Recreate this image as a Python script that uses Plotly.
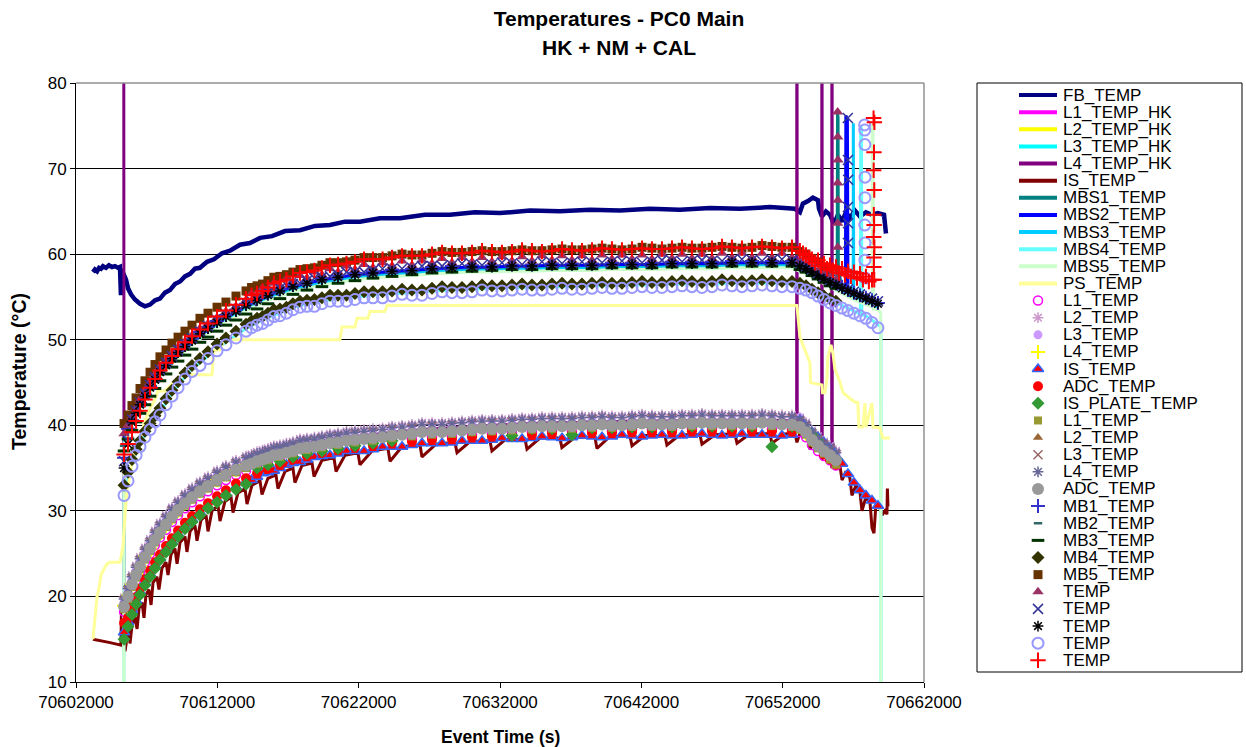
import plotly.graph_objects as go

T0 = 70600000  # origin of the time offsets below (Event Time = T0 + offset, seconds)

# ---------------- sample times (s after T0) ----------------
t_main = [5400, 5680, 5960, 6250, 6530, 6880, 7240, 7590, 7940, 8370,
          8790, 9220, 9710, 10210, 10770, 11340, 11980, 12610, 13320, 14030,
          14810, 15580, 16430, 17350, 18340, 19400, 20540, 21740, 23010, 24360,
          25770, 27190, 28600, 30020, 31430, 32850, 34260, 35680, 37090, 38510,
          39920, 41340, 42750, 44170, 45580, 47000, 48410, 49830, 51240, 52660]
t_mid = [14420, 15200, 16000, 16890, 17850, 18870, 19970, 21140, 22380, 23690,
         25070, 26480, 27900, 29310, 30730, 32140, 33560, 34970, 36390, 37800,
         39220, 40630, 42050, 43460, 44880, 46290, 47710, 49120, 50540, 51950]
t_tail = [53220, 53650, 54070, 54500, 54920, 55350, 55770, 56200, 56620, 57040,
          57470, 57890, 58320, 58740]

# ---------------- line series ----------------
fb_t = [3200, 3340, 3490, 3630, 3770, 3910, 4120, 4330, 4550, 4760, 4970, 5110, 5180, 5220, 5330,
        5540, 5680, 5890, 6170, 6530, 6880, 7240, 7590, 7940, 8300, 8650, 9000, 9360, 9710, 10070,
        10420, 10770, 11270, 11760, 12330, 12900, 13600, 14310, 15020, 15870, 16790, 17850, 18910,
        19970, 21030, 22090, 23510, 24920, 26690, 28460, 30230, 32000, 34120, 36240, 38370, 40490,
        42610, 44730, 46860, 48980, 51100, 52520, 52870, 53220, 53430, 53790, 54140, 54500, 54570,
        54780, 55060, 55350, 55630, 55910, 56200, 56480, 56760, 57110, 57470, 57890, 58320, 58740,
        59170, 59310]
fb_v = [57.9, 58.2, 58.0, 58.4, 58.3, 58.6, 58.4, 58.7, 58.5, 58.6, 58.4, 58.5, 55.2, 58.3, 57.8,
        57.0, 56.0, 55.3, 54.7, 54.2, 53.9, 54.1, 54.6, 54.8, 55.5, 55.8, 56.5, 56.8, 57.4, 57.7,
        58.3, 58.4, 59.1, 59.4, 60.1, 60.4, 61.1, 61.3, 61.9, 62.1, 62.7, 62.8, 63.3,
        63.4, 63.8, 63.8, 64.2, 64.2, 64.6, 64.6, 64.9, 64.8, 65.1, 65.0, 65.2, 65.1,
        65.3, 65.2, 65.4, 65.3, 65.5, 65.4, 65.3, 64.9, 65.9, 66.2, 66.6, 66.3, 65.3,
        64.4, 65.0, 64.6, 63.5, 64.6, 63.8, 64.9, 64.2, 65.1, 64.4, 64.9, 64.6, 64.8,
        64.6, 62.4]

l1hk_v = [18.6, 19.8, 21.2, 22.3, 23.3, 24.4, 25.4, 26.4, 27.3, 28.2,
          29.1, 29.9, 30.7, 31.4, 32.1, 32.7, 33.4, 34.0, 34.6, 35.1,
          35.6, 36.0, 36.4, 36.8, 37.2, 37.5, 37.8, 38.1, 38.3, 38.6,
          38.8, 39.0, 39.1, 39.3, 39.4, 39.5, 39.6, 39.7, 39.7, 39.8,
          39.8, 39.9, 39.9, 39.9, 40.0, 40.0, 40.0, 40.0, 40.0, 39.9]
l1hk_tail = [39.6, 39.0, 38.1, 37.4, 36.8, 36.3, 35.7]

l2hk_v = [18.9, 20.1, 21.5, 22.6, 23.6, 24.7, 25.7, 26.7, 27.6, 28.5,
          29.4, 30.2, 31.0, 31.7, 32.4, 33.0, 33.7, 34.3, 34.9, 35.4,
          35.9, 36.3, 36.7, 37.1, 37.5, 37.8, 38.1, 38.4, 38.6, 38.9,
          39.1, 39.3, 39.4, 39.6, 39.7, 39.8, 39.9, 40.0, 40.0, 40.1,
          40.1, 40.2, 40.2, 40.2, 40.3, 40.3, 40.3, 40.3, 40.3, 40.2]
l2hk_tail = [39.9, 39.3, 38.4, 37.7, 37.1, 36.6, 36.0]

l3hk_v = [19.1, 20.3, 21.7, 22.8, 23.8, 24.9, 25.9, 26.9, 27.8, 28.7,
          29.6, 30.4, 31.2, 31.9, 32.6, 33.2, 33.9, 34.5, 35.1, 35.6,
          36.1, 36.5, 36.9, 37.3, 37.7, 38.0, 38.3, 38.6, 38.8, 39.1,
          39.3, 39.5, 39.6, 39.8, 39.9, 40.0, 40.1, 40.2, 40.2, 40.3,
          40.3, 40.4, 40.4, 40.4, 40.5, 40.5, 40.5, 40.5, 40.5, 40.4]
l3hk_tail = [40.1, 39.5, 38.6, 37.9, 37.3, 36.8, 36.2]

l4hk_v = [19.0, 20.4, 21.8, 22.9, 23.9, 25.0, 26.0, 27.0, 27.9, 28.8,
          29.7, 30.5, 31.3, 32.0, 32.7, 33.3, 34.0, 34.6, 35.2, 35.7,
          36.2, 36.6, 37.0, 37.4, 37.8, 38.1, 38.4, 38.7, 38.9, 39.2,
          39.4, 39.6, 39.7, 39.9, 40.0, 40.1, 40.2, 40.3, 40.3, 40.4,
          40.4, 40.5, 40.5, 40.5, 40.6, 40.6, 40.6, 40.6, 40.6, 40.5]
l4hk_tail = [40.2, 39.6, 38.7, 38.0, 37.4, 36.9, 36.3]
l4hk_spike_t = [5370, 5385, 52990, 53010, 53030, 54760, 54780, 54800, 55470, 55490, 55510]
l4hk_spike_v = [120.0, 35.5, 40.6, 120.0, 41.0, 37.6, 120.0, 37.7, 38.0, 120.0, 38.2]

is_t = [3200, 3700, 4410, 5180, 5220, 5330, 5470, 5610, 5750, 5820,
        5960, 6170, 6320, 6460, 6670, 6810, 6950, 7160, 7310, 7450,
        7730, 7870, 8080, 8370, 8510, 8720, 9000, 9150, 9360, 9710,
        9850, 10070, 10420, 10560, 10840, 11200, 11340, 11620, 12050, 12190,
        12540, 12970, 13110, 13460, 13960, 14100, 14450, 15020, 15160, 15580,
        16150, 16290, 16790, 17350, 17490, 17990, 18700, 18840, 19400, 20250,
        20400, 21030, 21950, 22090, 22940, 24070, 24220, 25060, 26340, 26480,
        27470, 28810, 28960, 29880, 31290, 31430, 32350, 33770, 33910, 34830,
        36240, 36380, 37300, 38720, 38860, 39780, 41200, 41340, 42260, 43670,
        43810, 44730, 46150, 46290, 47210, 48620, 48770, 49690, 51100, 51240,
        52160, 52870, 53010, 53360, 53790, 53930, 54280, 54640, 54780, 55060,
        55350, 55490, 55770, 56050, 56200, 56480, 56760, 56900, 57190, 57470,
        57610, 57890, 58180, 58320, 58460, 58600, 58880, 59030, 59240, 59380,
        59410, 59450]
is_v = [15.0, 14.8, 14.6, 14.3, 19.0, 18.5, 13.6, 15.2, 16.0, 14.5,
        16.6, 17.6, 16.2, 18.6, 19.3, 17.5, 20.2, 20.8, 19.0, 21.6,
        22.3, 20.8, 23.3, 24.0, 22.5, 24.9, 25.6, 23.8, 26.3, 27.0,
        25.2, 27.6, 28.3, 26.5, 28.9, 29.5, 27.6, 30.0, 30.6, 28.8,
        31.1, 31.6, 29.8, 32.1, 32.6, 30.8, 33.0, 33.5, 31.9, 33.8,
        34.2, 32.6, 34.6, 35.0, 33.3, 35.3, 35.6, 34.0, 35.9, 36.2,
        34.6, 36.5, 36.8, 35.4, 37.0, 37.3, 35.8, 37.5, 37.7, 36.3,
        37.8, 38.0, 36.8, 38.1, 38.2, 37.0, 38.3, 38.4, 37.2, 38.5,
        38.5, 37.4, 38.6, 38.6, 37.3, 38.7, 38.7, 37.6, 38.8, 38.8,
        37.7, 38.9, 38.9, 37.8, 38.9, 39.0, 37.9, 39.0, 39.0, 37.9,
        39.0, 39.1, 38.0, 39.8, 39.0, 37.2, 38.4, 37.8, 36.0, 37.4,
        36.6, 35.0, 36.0, 35.3, 33.6, 34.6, 33.8, 31.8, 33.0, 32.2,
        30.0, 31.6, 31.0, 28.0, 27.4, 30.8, 30.3, 29.5, 30.0, 29.6,
        32.6, 30.5]

mbs1_v = [38.1, 39.1, 40.1, 41.1, 42.1, 43.1, 44.1, 45.0, 45.9, 46.7,
          47.5, 48.2, 48.9, 49.6, 50.4, 51.0, 51.7, 52.4, 53.0, 53.7,
          54.3, 54.9, 55.4, 55.9, 56.3, 56.7, 57.0, 57.3, 57.5, 57.7,
          57.8, 58.0, 58.1, 58.2, 58.2, 58.3, 58.3, 58.4, 58.4, 58.4,
          58.5, 58.5, 58.5, 58.6, 58.6, 58.6, 58.7, 58.7, 58.7, 58.7]
mbs1_tail = [58.3, 58.0, 57.6, 57.2, 56.8, 56.4, 56.1, 55.7, 55.3, 55.0, 54.7, 54.4, 54.1, 53.8]
mbs1_spike_t = [55860, 55880, 55920, 55940]
mbs1_spike_v = [57.8, 76.5, 76.0, 58.5]

mbs2_v = [38.4, 39.4, 40.4, 41.4, 42.4, 43.4, 44.4, 45.3, 46.2, 47.0,
          47.8, 48.5, 49.2, 49.9, 50.7, 51.3, 52.0, 52.7, 53.3, 54.0,
          54.6, 55.2, 55.7, 56.2, 56.6, 57.0, 57.3, 57.6, 57.8, 58.0,
          58.1, 58.3, 58.4, 58.5, 58.5, 58.6, 58.6, 58.7, 58.7, 58.7,
          58.8, 58.8, 58.8, 58.9, 58.9, 58.9, 59.0, 59.0, 59.0, 59.0]
mbs2_tail = [58.6, 58.3, 57.9, 57.5, 57.1, 56.7, 56.4, 56.0, 55.7, 55.4, 55.1, 54.8, 54.5, 54.2]
mbs2_spike_t = [56440, 56470, 56580, 56610]
mbs2_spike_v = [56.1, 76.2, 75.8, 55.8]

mbs3_v = [38.0, 39.0, 40.0, 41.0, 42.0, 43.0, 44.0, 44.9, 45.8, 46.6,
          47.4, 48.1, 48.8, 49.5, 50.3, 50.9, 51.6, 52.3, 52.9, 53.6,
          54.2, 54.8, 55.3, 55.8, 56.2, 56.6, 56.9, 57.2, 57.4, 57.6,
          57.7, 57.9, 58.0, 58.1, 58.1, 58.2, 58.2, 58.3, 58.3, 58.3,
          58.4, 58.4, 58.4, 58.5, 58.5, 58.5, 58.6, 58.6, 58.6, 58.6]
mbs3_tail = [58.2, 57.9, 57.5, 57.1, 56.7, 56.3, 56.0, 55.6, 55.2, 54.9, 54.6, 54.3, 54.0, 53.7]
mbs3_spike_t = [56990, 57000, 57020, 57030]
mbs3_spike_v = [55.0, 75.3, 75.0, 54.8]

mbs4_v = [32.1, 33.8, 35.5, 36.8, 37.8, 38.9, 39.8, 40.7, 41.5, 42.7,
          43.7, 44.7, 45.7, 46.6, 47.3, 48.1, 49.0, 49.7, 50.5, 51.3,
          52.0, 52.6, 53.1, 53.8, 54.2, 54.5, 54.8, 55.0, 55.2, 55.4,
          55.5, 55.7, 55.8, 55.9, 56.0, 56.1, 56.1, 56.2, 56.2, 56.3,
          56.3, 56.4, 56.4, 56.5, 56.5, 56.5, 56.6, 56.6, 56.6, 56.5]
mbs4_tail = [56.3, 56.1, 55.8, 55.4, 55.0, 54.6, 54.3, 54.0, 53.7, 53.4, 53.1, 52.8, 52.3, 51.7]
mbs4_spike_t = [5380, 57500, 57520, 57580, 57600, 58950, 58960]
mbs4_spike_v = [0.0, 53.0, 75.0, 74.6, 52.9, 51.5, 0.0]

mbs5_v = [37.8, 38.8, 39.8, 40.8, 41.8, 42.8, 43.8, 44.7, 45.6, 46.4,
          47.2, 47.9, 48.6, 49.3, 50.1, 50.7, 51.4, 52.1, 52.7, 53.4,
          54.0, 54.6, 55.1, 55.6, 56.0, 56.4, 56.7, 57.0, 57.2, 57.4,
          57.5, 57.7, 57.8, 57.9, 57.9, 58.0, 58.0, 58.1, 58.1, 58.1,
          58.2, 58.2, 58.2, 58.3, 58.3, 58.3, 58.4, 58.4, 58.4, 58.4]
mbs5_tail = [58.0, 57.7, 57.3, 56.9, 56.5, 56.1, 55.8, 55.4, 55.0, 54.7, 54.4, 54.1, 53.8, 53.5]
mbs5_spike_t = [5380, 58340, 58350, 58400, 58420, 58940, 58950]
mbs5_spike_v = [0.0, 53.8, 75.2, 74.8, 53.6, 53.2, 0.0]

ps_t = [3200, 3340, 3490, 3630, 3770, 3980, 4190, 4410, 5110, 5180, 5330, 5470, 5610, 5750, 5890,
        6170, 6530, 6880, 7240, 7590, 7800, 8300, 8650, 9000, 9570, 11620, 11760, 12190, 12470,
        20680, 20820, 21740, 21880, 22660, 22800, 23860, 24000, 53010, 53220, 53580, 53930, 53970,
        54780, 54820, 54990, 55130, 55200, 55420, 55560, 55700, 56050, 56270, 56760, 57110, 57320,
        57390, 57680, 57820, 57890, 58320, 58390, 58880, 59100, 59590]
ps_v = [15.0, 17.5, 20.0, 21.0, 22.5, 23.2, 23.8, 24.0, 24.0, 24.5, 26.0, 29.5, 32.5, 33.5, 35.0,
        37.0, 38.5, 40.5, 42.0, 43.0, 44.0, 44.0, 44.6, 45.2, 45.9, 45.9, 48.8, 48.8, 50.0,
        50.0, 51.5, 51.5, 52.5, 52.5, 53.3, 53.3, 54.0, 54.0, 50.3, 48.8, 47.3, 45.0,
        44.7, 43.8, 43.8, 45.3, 48.0, 49.4, 48.4, 46.5, 45.1, 43.8, 43.2, 42.7, 42.7,
        39.8, 39.8, 42.6, 39.8, 42.6, 39.8, 39.7, 38.5, 38.5]

# ---------------- marker series: lower group ----------------
l1_v = [18.2, 19.4, 20.8, 21.9, 22.9, 24.0, 25.0, 26.0, 26.9, 27.8,
        28.7, 29.5, 30.3, 31.0, 31.7, 32.3, 33.0, 33.6, 34.2, 34.7,
        35.2, 35.6, 36.0, 36.4, 36.8, 37.1, 37.4, 37.7, 37.9, 38.2,
        38.4, 38.6, 38.7, 38.9, 39.0, 39.1, 39.2, 39.3, 39.3, 39.4,
        39.4, 39.5, 39.5, 39.5, 39.6, 39.6, 39.6, 39.6, 39.6, 39.5]
l1_tail = [39.2, 38.6, 37.7, 37.0, 36.4, 35.9, 35.3]

l2_v = [19.9, 21.1, 22.5, 23.6, 24.6, 25.7, 26.7, 27.7, 28.6, 29.5,
        30.4, 31.2, 32.0, 32.7, 33.4, 34.0, 34.7, 35.3, 35.9, 36.4,
        36.9, 37.3, 37.7, 38.1, 38.5, 38.8, 39.1, 39.4, 39.6, 39.9,
        40.1, 40.3, 40.4, 40.6, 40.7, 40.8, 40.9, 41.0, 41.0, 41.1,
        41.1, 41.2, 41.2, 41.2, 41.3, 41.3, 41.3, 41.3, 41.3, 41.2]
l2_mid = [36.6, 37.1, 37.6, 37.9, 38.4, 38.6, 39.0, 39.3, 39.5, 39.7,
          40.0, 40.3, 40.3, 40.5, 40.7, 40.7, 40.9, 41.0, 41.0, 41.1,
          41.2, 41.1, 41.3, 41.2, 41.3, 41.4, 41.3, 41.3, 41.4, 41.2]
l2_tail = [40.9, 40.3, 39.4, 38.7, 38.1, 37.6, 37.0]

l3_v = [19.3, 20.5, 21.9, 23.0, 24.0, 25.1, 26.1, 27.1, 28.0, 28.9,
        29.8, 30.6, 31.4, 32.1, 32.8, 33.4, 34.1, 34.7, 35.3, 35.8,
        36.3, 36.7, 37.1, 37.5, 37.9, 38.2, 38.5, 38.8, 39.0, 39.3,
        39.5, 39.7, 39.8, 40.0, 40.1, 40.2, 40.3, 40.4, 40.4, 40.5,
        40.5, 40.6, 40.6, 40.6, 40.7, 40.7, 40.7, 40.7, 40.7, 40.6]
l3_tail = [40.9, 39.7, 38.8, 38.1, 37.5, 37.0, 36.4]

l4_v = [18.9, 20.1, 21.4, 22.6, 23.5, 24.7, 25.6, 26.7, 27.5, 28.5,
        29.3, 30.2, 30.9, 31.7, 32.3, 33.0, 33.6, 34.3, 34.8, 35.4,
        35.8, 36.3, 36.6, 37.1, 37.4, 37.8, 38.0, 38.4, 38.5, 38.9,
        39.0, 39.3, 39.3, 39.6, 39.6, 39.8, 39.8, 40.0, 39.9, 40.1,
        40.0, 40.2, 40.1, 40.2, 40.2, 40.3, 40.2, 40.3, 40.2, 40.2]
l4_tail = [39.8, 39.3, 38.3, 37.7, 37.0, 36.6, 35.9]

ismk_v = [15.8, 17.0, 18.4, 19.5, 20.5, 21.6, 22.6, 23.6, 24.5, 25.5,
          26.4, 27.3, 28.2, 29.0, 29.8, 30.5, 31.3, 32.0, 32.8, 33.4,
          34.0, 34.5, 35.0, 35.6, 36.0, 36.4, 36.7, 37.0, 37.2, 37.5,
          37.7, 37.9, 38.0, 38.2, 38.3, 38.4, 38.5, 38.6, 38.6, 38.7,
          38.7, 38.8, 38.8, 38.8, 38.9, 38.9, 38.9, 38.9, 38.9, 38.9]
ismk_mid = [33.6, 34.4, 34.7, 35.4, 35.7, 36.3, 36.5, 37.0, 37.0, 37.5,
            37.5, 37.9, 37.9, 38.2, 38.2, 38.5, 38.4, 38.7, 38.5, 38.8,
            38.6, 38.9, 38.7, 38.9, 38.8, 39.0, 38.8, 39.0, 38.9, 38.8]
ismk_tail = [40.6, 39.6, 39.2, 38.6, 38.0, 37.3, 36.4, 35.5, 34.3, 33.3, 32.4, 31.8, 31.2, 30.6]

adc_v = [16.9, 17.5, 18.8, 19.9, 20.9, 22.0, 23.0, 24.0, 24.9, 25.9,
         26.8, 27.7, 28.6, 29.4, 30.2, 30.9, 31.7, 32.4, 33.2, 33.8,
         34.4, 34.9, 35.4, 36.0, 36.4, 36.8, 37.1, 37.4, 37.6, 37.9,
         38.1, 38.3, 38.4, 38.6, 38.7, 38.8, 38.9, 39.0, 39.0, 39.1,
         39.1, 39.2, 39.2, 39.2, 39.3, 39.3, 39.3, 39.3, 39.3, 39.3]
adc_tail = [40.0, 39.4, 38.6, 37.9, 36.6, 36.0, 35.4]

plate_v = [15.0, 16.5, 17.9, 19.1, 20.2, 21.3, 22.3, 23.3, 24.3, 25.2,
           26.1, 27.0, 27.9, 28.7, 29.5, 30.3, 31.0, 31.8, 32.5, 33.1,
           35.0, 35.4, 35.8, 36.3, 36.7, 37.0, 37.3, 37.6, 37.9, 38.2,
           39.2, 39.3, 39.4, 39.4, 39.5, 38.8, 39.6, 39.6, 38.9, 39.7,
           39.7, 39.8, 39.8, 39.8, 39.9, 39.9, 39.9, 39.9, 37.5, 39.9]
plate_tail = [40.0, 39.5, 38.9, 38.2, 37.4, 36.8, 36.1]

l1b_v = [18.5, 19.7, 21.1, 22.2, 23.2, 24.3, 25.3, 26.3, 27.2, 28.1,
         29.0, 29.8, 30.6, 31.3, 32.0, 32.6, 33.3, 33.9, 34.5, 35.0,
         35.5, 35.9, 36.3, 36.7, 37.1, 37.4, 37.7, 38.0, 38.2, 38.5,
         38.7, 38.9, 39.0, 39.2, 39.3, 39.4, 39.5, 39.6, 39.6, 39.7,
         39.7, 39.8, 39.8, 39.8, 39.9, 39.9, 39.9, 39.9, 39.9, 39.8]
l1b_tail = [39.5, 38.9, 38.0, 37.3, 36.7, 36.0, 35.4]

l2b_v = [19.0, 20.2, 21.6, 22.7, 23.7, 24.8, 25.8, 26.8, 27.7, 28.6,
         29.5, 30.3, 31.1, 31.8, 32.5, 33.1, 33.8, 34.4, 35.0, 35.5,
         36.0, 36.4, 36.8, 37.2, 37.6, 37.9, 38.2, 38.5, 38.7, 39.0,
         39.2, 39.4, 39.5, 39.7, 39.8, 39.9, 40.0, 40.1, 40.1, 40.2,
         40.2, 40.3, 40.3, 40.3, 40.4, 40.4, 40.4, 40.4, 40.4, 40.3]
l2b_tail = [40.0, 39.4, 38.5, 37.8, 37.2, 36.7, 35.5]

l3b_v = [19.5, 20.7, 22.1, 23.2, 24.2, 25.3, 26.3, 27.3, 28.2, 29.1,
         30.0, 30.8, 31.6, 32.3, 33.0, 33.6, 34.3, 34.9, 35.5, 36.0,
         36.5, 36.9, 37.3, 37.7, 38.1, 38.4, 38.7, 39.0, 39.2, 39.5,
         39.7, 39.9, 40.0, 40.2, 40.3, 40.4, 40.5, 40.6, 40.6, 40.7,
         40.7, 40.8, 40.8, 40.8, 40.9, 40.9, 40.9, 40.9, 40.9, 40.8]
l3b_tail = [40.5, 39.9, 39.0, 38.3, 37.7, 37.2, 36.6]

l4b_v = [19.7, 20.9, 22.3, 23.4, 24.4, 25.5, 26.5, 27.5, 28.4, 29.3,
         30.2, 31.0, 31.8, 32.5, 33.2, 33.8, 34.5, 35.1, 35.7, 36.2,
         36.7, 37.1, 37.5, 37.9, 38.3, 38.6, 38.9, 39.2, 39.4, 39.7,
         39.9, 40.1, 40.2, 40.4, 40.5, 40.6, 40.7, 40.8, 40.8, 40.9,
         40.9, 41.0, 41.0, 41.0, 41.1, 41.1, 41.1, 41.1, 41.1, 41.0]
l4b_mid = [36.4, 36.9, 37.4, 37.7, 38.2, 38.4, 38.8, 39.1, 39.3, 39.5,
           39.8, 40.1, 40.1, 40.3, 40.5, 40.5, 40.7, 40.8, 40.8, 40.9,
           41.0, 40.9, 41.1, 41.0, 41.1, 41.2, 41.1, 41.1, 41.2, 41.0]
l4b_tail = [40.7, 40.1, 39.2, 38.5, 37.9, 37.4, 36.8]

adcb_v = [18.8, 20.0, 21.4, 22.5, 23.5, 24.6, 25.6, 26.6, 27.5, 28.4,
          29.3, 30.1, 30.9, 31.6, 32.3, 32.9, 33.6, 34.2, 34.8, 35.3,
          35.8, 36.2, 36.6, 37.0, 37.4, 37.7, 38.0, 38.3, 38.5, 38.8,
          39.0, 39.2, 39.3, 39.5, 39.6, 39.7, 39.8, 39.9, 39.9, 40.0,
          40.0, 40.1, 40.1, 40.1, 40.2, 40.2, 40.2, 40.2, 40.2, 40.1]
adcb_mid = [35.5, 36.0, 36.5, 36.8, 37.3, 37.5, 37.9, 38.2, 38.4, 38.6,
            38.9, 39.2, 39.2, 39.4, 39.6, 39.6, 39.8, 39.9, 39.9, 40.0,
            40.1, 40.0, 40.2, 40.1, 40.2, 40.3, 40.2, 40.2, 40.3, 40.1]
adcb_tail = [39.8, 39.2, 38.3, 37.6, 37.0, 36.5, 35.9]

# ---------------- marker series: upper group ----------------
mb1_v = [36.2, 39.6, 40.6, 41.6, 42.6, 43.6, 44.6, 45.5, 46.4, 47.2,
         48.0, 48.7, 49.4, 50.1, 50.9, 51.5, 52.2, 52.9, 53.5, 54.2,
         54.8, 55.4, 55.9, 56.4, 56.8, 57.2, 57.5, 57.8, 58.0, 58.2,
         58.3, 58.5, 58.6, 58.7, 58.7, 58.8, 58.8, 58.9, 58.9, 58.9,
         59.0, 59.0, 59.0, 59.1, 59.1, 59.1, 59.2, 59.2, 59.2, 59.2]
mb1_tail = [58.8, 58.5, 58.1, 57.7, 57.3, 56.9, 56.6, 56.2, 55.8, 55.5, 55.2, 54.9, 54.6, 54.3]

mb2_v = [37.6, 39.2, 40.2, 41.2, 42.2, 43.2, 44.2, 45.1, 46.0, 46.8,
         47.6, 48.3, 49.0, 49.7, 50.5, 51.1, 51.8, 52.5, 53.1, 53.8,
         54.4, 55.0, 55.5, 56.0, 56.4, 56.8, 57.1, 57.4, 57.6, 57.8,
         57.9, 58.1, 58.2, 58.3, 58.3, 58.4, 58.4, 58.5, 58.5, 58.5,
         58.6, 58.6, 58.6, 58.7, 58.7, 58.7, 58.8, 58.8, 58.8, 58.8]
mb2_tail = [58.4, 58.1, 57.7, 57.3, 56.9, 56.5, 56.2]

mb3_v = [37.0, 38.4, 39.4, 40.4, 41.4, 42.4, 43.4, 44.3, 45.2, 46.0,
         46.8, 47.5, 48.2, 48.9, 49.7, 50.3, 51.0, 51.7, 52.3, 53.0,
         53.6, 54.2, 54.8, 55.3, 55.8, 56.2, 56.6, 56.9, 57.2, 57.4,
         57.6, 57.8, 57.9, 58.0, 58.1, 58.2, 58.2, 58.3, 58.3, 58.3,
         58.4, 58.4, 58.4, 58.5, 58.5, 58.5, 58.6, 58.6, 58.6, 58.6]
mb3_tail = [58.2, 57.9, 57.5, 57.1, 56.7, 56.3, 56.0]

mb4_v = [33.0, 34.5, 36.0, 37.2, 38.2, 39.3, 40.2, 41.1, 42.0, 43.1,
         44.1, 45.1, 46.1, 47.0, 47.8, 48.6, 49.5, 50.2, 51.0, 51.8,
         52.5, 53.1, 53.6, 54.2, 54.6, 54.9, 55.2, 55.4, 55.6, 55.7,
         55.8, 56.0, 56.1, 56.2, 56.3, 56.4, 56.4, 56.5, 56.5, 56.6,
         56.6, 56.7, 56.7, 56.8, 56.8, 56.8, 56.9, 56.9, 56.9, 56.8]
mb4_mid = [52.2, 52.7, 53.5, 53.8, 54.5, 54.7, 55.2, 55.2, 55.6, 55.6,
           55.9, 55.8, 56.2, 56.1, 56.4, 56.3, 56.5, 56.4, 56.6, 56.5,
           56.7, 56.6, 56.8, 56.7, 56.9, 56.7, 57.0, 56.8, 57.0, 56.8]
mb4_tail = [56.6, 56.3, 55.9, 55.5, 55.1, 54.8, 54.5]

mb5_v = [40.2, 41.2, 42.3, 43.2, 44.3, 45.2, 46.2, 47.1, 48.0, 48.8,
         49.6, 50.3, 51.0, 51.7, 52.5, 53.1, 53.8, 54.4, 55.1, 55.7,
         56.3, 56.9, 57.4, 57.9, 58.3, 58.7, 59.0, 59.3, 59.6, 59.8,
         59.9, 60.1, 60.2, 60.3, 60.3, 60.4, 60.4, 60.5, 60.5, 60.6,
         60.6, 60.6, 60.7, 60.7, 60.7, 60.8, 60.8, 60.8, 60.9, 60.8]
mb5_mid = [56.1, 56.5, 57.3, 57.6, 58.2, 58.4, 59.0, 59.1, 59.6, 59.6,
           60.0, 59.9, 60.3, 60.2, 60.4, 60.3, 60.5, 60.4, 60.6, 60.5,
           60.7, 60.5, 60.8, 60.6, 60.8, 60.7, 60.9, 60.7, 61.0, 60.8]
mb5_tail = [60.3, 60.0, 59.5, 59.1, 58.5, 58.0]

tri_v = [39.0, 40.0, 41.0, 42.0, 43.0, 44.0, 45.0, 45.9, 46.8, 47.6,
         48.4, 49.1, 49.8, 50.5, 51.3, 51.9, 52.6, 53.3, 53.9, 54.6,
         55.2, 55.8, 56.3, 56.8, 57.2, 57.6, 57.9, 58.2, 58.4, 58.6,
         58.7, 58.9, 59.0, 59.1, 59.1, 59.2, 59.2, 59.3, 59.3, 59.3,
         59.4, 59.4, 59.4, 59.5, 59.5, 59.5, 59.6, 59.6, 59.6, 59.6]
tri_mid = [55.4, 56.0, 56.6, 57.1, 57.5, 57.9, 58.3, 58.6, 58.8, 59.0,
           59.2, 59.3, 59.5, 59.6, 59.6, 59.7, 59.7, 59.8, 59.8, 59.8,
           59.9, 59.9, 59.9, 60.0, 60.0, 60.0, 60.1, 60.1, 60.1, 60.1]
tri_tail = [59.2, 58.9, 58.5, 58.1, 57.7, 57.3, 57.0]
tri_spike_t = [55890, 55900, 55910, 55895, 55905, 55890, 55900]
tri_spike_v = [76.6, 73.7, 71.0, 68.3, 66.3, 63.6, 60.8]

tx_v = [35.8, 38.2, 40.7, 41.7, 42.7, 43.7, 44.7, 45.6, 46.5, 47.3,
        48.1, 48.8, 49.5, 50.2, 51.0, 51.6, 52.3, 53.0, 53.6, 54.3,
        54.9, 55.5, 56.0, 56.5, 56.9, 57.3, 57.6, 57.9, 58.1, 58.3,
        58.4, 58.6, 58.7, 58.8, 58.8, 58.9, 58.9, 59.0, 59.0, 59.0,
        59.1, 59.1, 59.1, 59.2, 59.2, 59.2, 59.3, 59.3, 59.3, 59.3]
tx_mid = [54.5, 55.3, 55.7, 56.4, 56.6, 57.2, 57.4, 57.9, 57.9, 58.3,
          58.3, 58.6, 58.6, 58.9, 58.7, 59.0, 58.8, 59.1, 58.9, 59.1,
          59.0, 59.2, 59.0, 59.3, 59.1, 59.3, 59.2, 59.4, 59.2, 59.4]
tx_tail = [59.0, 58.6, 58.2, 57.8, 57.4, 57.0, 56.7, 56.3, 55.9, 55.6, 55.3, 55.0, 54.8, 54.5]
tx_spike_t = [56610, 56620, 56630, 56615, 56625, 56620]
tx_spike_v = [75.9, 71.0, 68.7, 65.5, 63.6, 61.3]

tstar_v = [35.0, 37.8, 40.4, 41.4, 42.4, 43.4, 44.4, 45.3, 46.2, 47.0,
           47.8, 48.5, 49.2, 49.9, 50.7, 51.3, 52.0, 52.7, 53.3, 54.0,
           54.6, 55.2, 55.7, 56.2, 56.6, 57.0, 57.3, 57.6, 57.8, 58.0,
           58.1, 58.3, 58.4, 58.5, 58.5, 58.6, 58.6, 58.7, 58.7, 58.7,
           58.8, 58.8, 58.8, 58.9, 58.9, 58.9, 59.0, 59.0, 59.0, 59.0]
tstar_tail = [58.6, 58.3, 57.9, 57.5, 57.1, 56.7, 56.4, 56.0, 55.7, 55.4, 55.1, 54.8, 54.5, 54.2]

tcirc_v = [31.8, 33.5, 35.2, 36.5, 37.5, 38.6, 39.5, 40.4, 41.2, 42.4,
           43.4, 44.4, 45.4, 46.3, 47.0, 47.8, 48.7, 49.4, 50.2, 51.0,
           51.7, 52.3, 52.8, 53.5, 53.9, 54.2, 54.5, 54.7, 54.9, 55.1,
           55.2, 55.4, 55.5, 55.6, 55.7, 55.8, 55.8, 55.9, 55.9, 56.0,
           56.0, 56.1, 56.1, 56.2, 56.2, 56.2, 56.3, 56.3, 56.3, 56.2]
tcirc_mid = [51.4, 51.9, 52.7, 53.1, 53.8, 53.9, 54.5, 54.5, 54.9, 54.9,
             55.3, 55.2, 55.6, 55.5, 55.8, 55.7, 55.9, 55.8, 56.0, 55.9,
             56.1, 56.0, 56.2, 56.1, 56.3, 56.1, 56.4, 56.2, 56.4, 56.2]
tcirc_tail = [56.0, 55.8, 55.5, 55.1, 54.7, 54.3, 54.0, 53.7, 53.4, 53.1, 52.8, 52.5, 52.0, 51.4]
tcirc_spike_t = [57800, 57810, 57820, 57830, 57820, 57810, 57830, 57820, 57840]
tcirc_spike_v = [75.1, 74.5, 72.8, 69.0, 66.6, 63.4, 61.3, 59.3, 57.2]

tplus_v = [36.6, 37.8, 39.2, 40.5, 41.7, 43.0, 44.4, 45.4, 46.4, 47.3,
           48.1, 48.9, 49.7, 50.4, 51.2, 51.9, 52.7, 53.4, 54.1, 54.8,
           55.4, 56.1, 56.8, 57.4, 57.9, 58.4, 58.8, 59.1, 59.4, 59.6,
           59.8, 60.0, 60.1, 60.2, 60.3, 60.3, 60.4, 60.4, 60.5, 60.5,
           60.6, 60.6, 60.6, 60.7, 60.7, 60.7, 60.8, 60.8, 60.8, 60.8]
tplus_mid = [55.2, 55.7, 56.6, 57.0, 57.8, 58.1, 58.7, 58.9, 59.4, 59.4,
             59.8, 59.8, 60.2, 60.1, 60.4, 60.2, 60.5, 60.3, 60.6, 60.4,
             60.7, 60.5, 60.7, 60.6, 60.8, 60.6, 60.9, 60.7, 60.9, 60.7]
tplus_tail_t = [53220, 53440, 53650, 53860, 54070, 54290, 54500, 54710, 54920, 55140,
                55350, 55560, 55770, 55990, 56200, 56410, 56620, 56830, 57040, 57260,
                57470, 57680, 57890, 58100, 58320]
tplus_tail_v = [60.4, 60.1, 59.9, 59.6, 59.4, 59.0, 59.3, 58.6, 58.9, 58.3,
                58.7, 58.1, 58.5, 57.8, 58.3, 57.6, 58.0, 57.4, 57.9, 57.2,
                57.7, 57.0, 57.4, 56.8, 57.0]
tplus_spike_t = [58430, 58490, 58460, 58440, 58480, 58450, 58470, 58440, 58490, 58460, 58450, 58480]
tplus_spike_v = [75.9, 75.4, 71.9, 69.8, 67.5, 64.6, 63.4, 62.0, 60.8, 59.6, 58.5, 57.0]

x_ticks = [70602000, 70612000, 70622000, 70632000, 70642000, 70652000, 70662000]
y_ticks = [10, 20, 30, 40, 50, 60, 70, 80]


# ---------------- helpers ----------------
def tail(v):
    return (t_tail[:len(v)], v)


def mid(v):
    return (t_mid, v)


def merged(parts):
    pts = []
    for ts, vs in parts:
        assert len(ts) == len(vs), (len(ts), len(vs))
        pts += list(zip(ts, vs))
    pts.sort(key=lambda p: p[0])
    return [T0 + p[0] for p in pts], [p[1] for p in pts]


def L(name, color, width, parts):
    return dict(name=name, kind='line', color=color, width=width, parts=parts)


def M(name, symbol, color, size, parts, lw=1.5, lc=None):
    return dict(name=name, kind='marker', symbol=symbol, color=color, size=size,
                lw=lw, lc=lc or color, parts=parts)


series = [
    L('FB_TEMP', '#000080', 4.5, [(fb_t, fb_v)]),
    L('L1_TEMP_HK', '#FF00FF', 3, [(t_main, l1hk_v), tail(l1hk_tail)]),
    L('L2_TEMP_HK', '#FFFF00', 3, [(t_main, l2hk_v), tail(l2hk_tail)]),
    L('L3_TEMP_HK', '#00FFFF', 3, [(t_main, l3hk_v), tail(l3hk_tail)]),
    L('L4_TEMP_HK', '#800080', 3, [(t_main, l4hk_v), tail(l4hk_tail), (l4hk_spike_t, l4hk_spike_v)]),
    L('IS_TEMP', '#800000', 3, [(is_t, is_v)]),
    L('MBS1_TEMP', '#008080', 3, [(t_main, mbs1_v), tail(mbs1_tail), (mbs1_spike_t, mbs1_spike_v)]),
    L('MBS2_TEMP', '#0000FF', 3, [(t_main, mbs2_v), tail(mbs2_tail), (mbs2_spike_t, mbs2_spike_v)]),
    L('MBS3_TEMP', '#00CCFF', 3, [(t_main, mbs3_v), tail(mbs3_tail), (mbs3_spike_t, mbs3_spike_v)]),
    L('MBS4_TEMP', '#66FFFF', 3, [(t_main, mbs4_v), tail(mbs4_tail), (mbs4_spike_t, mbs4_spike_v)]),
    L('MBS5_TEMP', '#CCFFCC', 3, [(t_main, mbs5_v), tail(mbs5_tail), (mbs5_spike_t, mbs5_spike_v)]),
    L('PS_TEMP', '#FFFF99', 3, [(ps_t, ps_v)]),
    M('L1_TEMP', 'circle-open', '#FF00FF', 9, [(t_main, l1_v), tail(l1_tail)]),
    M('L2_TEMP', 'asterisk-open', '#CC99CC', 9, [(t_main, l2_v), mid(l2_mid), tail(l2_tail)]),
    M('L3_TEMP', 'circle', '#CC99FF', 9, [(t_main, l3_v), tail(l3_tail)], lw=0),
    M('L4_TEMP', 'cross-thin-open', '#FFFF00', 10, [(t_main, l4_v), tail(l4_tail)], lw=2),
    M('IS_TEMP', 'triangle-up', '#FF0000', 10, [(t_main, ismk_v), mid(ismk_mid), tail(ismk_tail)], lw=1.5, lc='#3366FF'),
    M('ADC_TEMP', 'circle', '#FF0000', 10, [(t_main, adc_v), tail(adc_tail)], lw=0),
    M('IS_PLATE_TEMP', 'diamond', '#339933', 10, [(t_main, plate_v), tail(plate_tail)], lw=0),
    M('L1_TEMP', 'square', '#999933', 8, [(t_main, l1b_v), tail(l1b_tail)], lw=0),
    M('L2_TEMP', 'triangle-up', '#996633', 9, [(t_main, l2b_v), tail(l2b_tail)], lw=0),
    M('L3_TEMP', 'x-thin-open', '#996666', 9, [(t_main, l3b_v), tail(l3b_tail)]),
    M('L4_TEMP', 'asterisk-open', '#666699', 9, [(t_main, l4b_v), mid(l4b_mid), tail(l4b_tail)]),
    M('ADC_TEMP', 'circle', '#999999', 12, [(t_main, adcb_v), mid(adcb_mid), tail(adcb_tail)], lw=0),
    M('MB1_TEMP', 'cross-thin-open', '#3333CC', 10, [(t_main, mb1_v), tail(mb1_tail)], lw=2),
    M('MB2_TEMP', 'line-ew-open', '#336666', 6, [(t_main, mb2_v), tail(mb2_tail)], lw=2.5),
    M('MB3_TEMP', 'line-ew-open', '#003300', 9, [(t_main, mb3_v), tail(mb3_tail)], lw=3),
    M('MB4_TEMP', 'diamond', '#333300', 10, [(t_main, mb4_v), mid(mb4_mid), tail(mb4_tail)], lw=0),
    M('MB5_TEMP', 'square', '#663300', 9, [(t_main, mb5_v), mid(mb5_mid), tail(mb5_tail)], lw=0),
    M('TEMP', 'triangle-up', '#993366', 10, [(t_main, tri_v), mid(tri_mid), tail(tri_tail), (tri_spike_t, tri_spike_v)], lw=0),
    M('TEMP', 'x-thin-open', '#333399', 10, [(t_main, tx_v), mid(tx_mid), tail(tx_tail), (tx_spike_t, tx_spike_v)]),
    M('TEMP', 'asterisk-open', '#000000', 9, [(t_main, tstar_v), tail(tstar_tail)]),
    M('TEMP', 'circle-open', '#9999FF', 11, [(t_main, tcirc_v), mid(tcirc_mid), tail(tcirc_tail), (tcirc_spike_t, tcirc_spike_v)], lw=2),
    M('TEMP', 'cross-thin-open', '#FF0000', 11, [(t_main, tplus_v), mid(tplus_mid), (tplus_tail_t, tplus_tail_v), (tplus_spike_t, tplus_spike_v)], lw=2),
]


def marker_style(s):
    return dict(symbol=s['symbol'], size=s['size'], color=s['color'],
                line=dict(color=s['lc'], width=s['lw']))


fig = go.Figure()
for s in series:
    x, y = merged(s['parts'])
    if s['kind'] == 'line':
        fig.add_trace(go.Scatter(x=x, y=y, mode='lines', name=s['name'],
                                 line=dict(color=s['color'], width=s['width']),
                                 showlegend=False, hoverinfo='skip'))
    else:
        fig.add_trace(go.Scatter(x=x, y=y, mode='markers', name=s['name'],
                                 marker=marker_style(s), showlegend=False, hoverinfo='skip'))

# ---------------- hand-built legend (pixel coordinates on x2/y2) ----------------
LEG_Y0, LEG_DY = 95.0, 17.13
annotations = []
for i, s in enumerate(series):
    yy = LEG_Y0 + i * LEG_DY
    if s['kind'] == 'line':
        fig.add_trace(go.Scatter(x=[1019, 1057], y=[yy, yy], mode='lines', xaxis='x2', yaxis='y2',
                                 line=dict(color=s['color'], width=4), showlegend=False, hoverinfo='skip'))
    else:
        fig.add_trace(go.Scatter(x=[1038], y=[yy], mode='markers', xaxis='x2', yaxis='y2',
                                 marker=marker_style(s), showlegend=False, hoverinfo='skip'))
    annotations.append(dict(text=s['name'], x=1061, y=yy, xref='x2', yref='y2', xanchor='left',
                            yanchor='middle', showarrow=False, font=dict(size=17, color='black')))

# title line 2 and axis titles
annotations.append(dict(text='<b>HK + NM + CAL</b>', x=(619 - 76) / 1169, y=(682 - 47) / 609,
                        xref='paper', yref='paper', showarrow=False, xanchor='center', yanchor='middle',
                        font=dict(size=21, color='black')))
annotations.append(dict(text='<b>Event Time (s)</b>', x=(500 - 76) / 1169, y=(682 - 737) / 609,
                        xref='paper', yref='paper', showarrow=False, xanchor='center', yanchor='middle',
                        font=dict(size=17.5, color='black')))
annotations.append(dict(text='<b>Temperature (°C)</b>', x=(19 - 76) / 1169, y=(682 - 372) / 609,
                        xref='paper', yref='paper', showarrow=False, xanchor='center', yanchor='middle',
                        textangle=-90, font=dict(size=19.5, color='black')))

shapes = [
    dict(type='line', xref='x domain', yref='y domain', x0=0, x1=1, y0=1, y1=1,
         line=dict(color='#909090', width=1.5), layer='above'),
    dict(type='line', xref='x domain', yref='y domain', x0=1, x1=1, y0=0, y1=1,
         line=dict(color='#909090', width=1.5), layer='above'),
    dict(type='rect', xref='x2', yref='y2', x0=977, x1=1242, y0=83, y1=672,
         line=dict(color='black', width=1), fillcolor='rgba(0,0,0,0)', layer='below'),
]

fig.update_layout(
    template='none',
    width=1246, height=747, autosize=False,
    margin=dict(l=76, r=1, t=73, b=65, pad=0),
    paper_bgcolor='white', plot_bgcolor='white',
    font=dict(family='Liberation Sans, Arial, sans-serif', color='black', size=17),
    showlegend=False, hovermode=False,
    title=dict(text='<b>Temperatures - PC0 Main</b>', x=619 / 1246, xref='container', xanchor='center',
               y=1 - 19 / 747, yref='container', yanchor='middle', font=dict(size=21, color='black')),
    xaxis=dict(domain=[0, 848 / 1169], range=[70602000, 70662000], tickmode='array', tickvals=x_ticks,
               ticktext=[str(v) for v in x_ticks], ticks='outside', ticklen=5, tickcolor='black',
               showline=True, linecolor='black', linewidth=1, showgrid=False, zeroline=False,
               automargin=False, tickfont=dict(size=17, color='black'), anchor='y'),
    yaxis=dict(domain=[0, 599 / 609], range=[10, 80], tickmode='array', tickvals=y_ticks,
               ticks='outside', ticklen=5, tickcolor='black', showline=True, linecolor='black',
               linewidth=1, showgrid=True, gridcolor='black', gridwidth=1, zeroline=False,
               automargin=False, tickfont=dict(size=17, color='black'), anchor='x'),
    xaxis2=dict(domain=[899 / 1169, 1], range=[975, 1245], visible=False, anchor='y2',
                showgrid=False, zeroline=False, fixedrange=True),
    yaxis2=dict(domain=[8 / 609, 1], range=[674, 73], visible=False, anchor='x2',
                showgrid=False, zeroline=False, fixedrange=True),
    annotations=annotations,
    shapes=shapes,
)

fig.write_html("out.html")
